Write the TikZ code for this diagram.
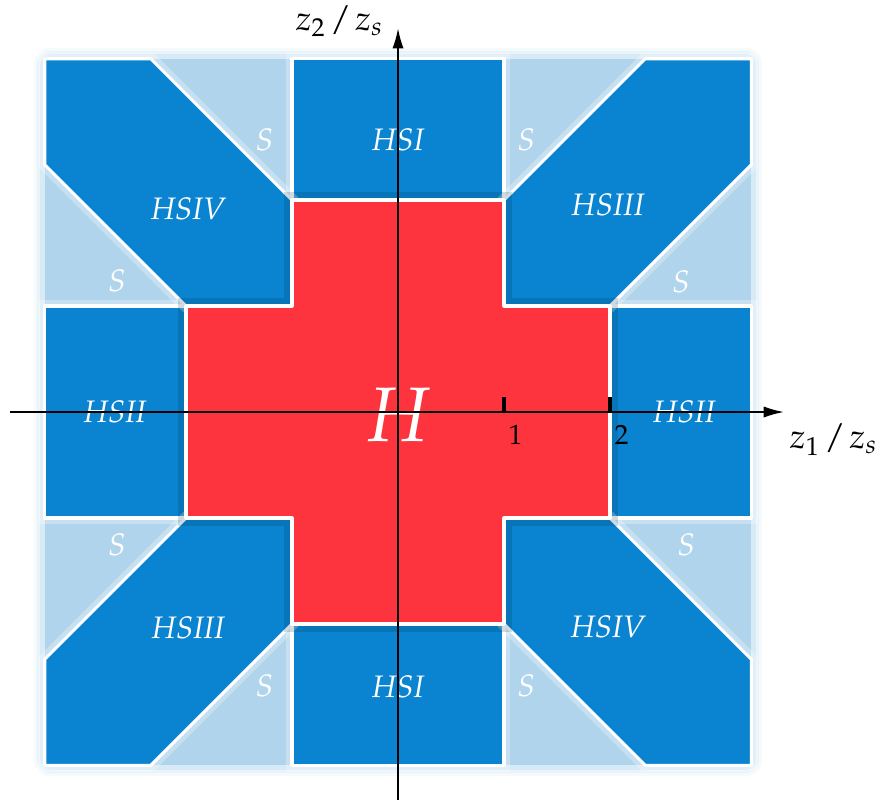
\documentclass[tikz,border=0pt]{standalone}
\definecolor{RegionBlue}{RGB}{10, 132, 208}
\definecolor{PaleBlue}{RGB}{176, 212, 236}
\definecolor{CrossRed}{RGB}{253, 51, 61}
\usepackage[T1]{fontenc}
\usepackage{mathpazo}
\usepackage{xcolor}
\usepackage{tikz}
\usetikzlibrary{arrows.meta}

\begin{document}
\begin{tikzpicture}[x=1.2cm, y=1.2cm,
    region/.style={fill=RegionBlue, draw=white, line width=1pt, line join=round,
        preaction={draw=white, opacity=0.3, line width=4pt}},
    crossregion/.style={fill=CrossRed, draw=white, line width=1pt, line join=round,
        preaction={draw=RegionBlue!40!black, opacity=0.18, line width=5pt}},
    lab/.style={text=white, font=\itshape},
    axislab/.style={inner sep=0pt, font=\fontsize{11}{13}\selectfont},
    axis/.style={line width=0.5pt, -{Latex[length=6.5pt, width=3.6pt]}},
    axtick/.style={line width=1pt}]
            \useasboundingbox (-3.755,-3.689) rectangle (4.528,3.887);

            % Glow round the square
            \foreach \w/\o in {7pt/0.12, 5pt/0.18, 3pt/0.3}
                \draw[PaleBlue, opacity=\o, line width=\w, rounded corners=2pt] (-3.333,-3.333) rectangle (3.333,3.333);

            % Stable part S
            \fill[PaleBlue] (-3.333,-3.333) rectangle (3.333,3.333);

            % HSI
            \draw[region] (-1,2) rectangle (1,3.333);
            \draw[region] (-1,-3.333) rectangle (1,-2);
            % HSII
            \draw[region] (2,-1) rectangle (3.333,1);
            \draw[region] (-3.333,-1) rectangle (-2,1);
            % HSIII
            \draw[region] (1,1) -- (2,1) -- (3.333,2.333) -- (3.333,3.333) -- (2.333,3.333) -- (1,2) -- cycle;
            \draw[region] (-1,-1) -- (-2,-1) -- (-3.333,-2.333) -- (-3.333,-3.333) -- (-2.333,-3.333) -- (-1,-2) -- cycle;
            % HSIV
            \draw[region] (-1,1) -- (-2,1) -- (-3.333,2.333) -- (-3.333,3.333) -- (-2.333,3.333) -- (-1,2) -- cycle;
            \draw[region] (1,-1) -- (2,-1) -- (3.333,-2.333) -- (3.333,-3.333) -- (2.333,-3.333) -- (1,-2) -- cycle;

            % H
            \draw[crossregion] (-1,-2) -- (1,-2) -- (1,-1) -- (2,-1) -- (2,1) -- (1,1) -- (1,2) -- (-1,2)
                -- (-1,1) -- (-2,1) -- (-2,-1) -- (-1,-1) -- cycle;

            % Labels
            \node[lab] (hsiN) at (0,2.57) {HSI};
            \node[lab] (hsiS) at (0,-2.59) {HSI};
            \node[lab] (hsiiE) at (2.70,0) {HSII};
            \node[lab] (hsiiW) at (-2.67,0) {HSII};
            \node[lab] (hsiiiNE) at (1.98,1.95) {HSIII};
            \node[lab] (hsiiiSW) at (-1.98,-2.04) {HSIII};
            \node[lab] (hsivNW) at (-1.98,1.92) {HSIV};
            \node[lab] (hsivSE) at (1.98,-2.03) {HSIV};
            \node[lab] (sNEa) at (1.21,2.57) {S};
            \node[lab] (sNEb) at (2.67,1.23) {S};
            \node[lab] (sNWa) at (-1.26,2.57) {S};
            \node[lab] (sNWb) at (-2.65,1.24) {S};
            \node[lab] (sSWa) at (-2.65,-1.25) {S};
            \node[lab] (sSWb) at (-1.26,-2.58) {S};
            \node[lab] (sSEa) at (2.72,-1.25) {S};
            \node[lab] (sSEb) at (1.21,-2.58) {S};
            \node[text=white] (hlab) at (0,-0.03) {\Huge$H$};

            % Axes
            \coordinate (xstart) at (-3.66,0);
            \coordinate (xend) at (3.64,0);
            \coordinate (ystart) at (0,-3.66);
            \coordinate (yend) at (0,3.62);
            \draw[axis] (xstart) -- (xend);
            \draw[axis] (ystart) -- (yend);
            \node[axislab, anchor=west] (xlab) at (3.69,-0.26) {$z_1\mkern2mu/\mkern2mu z_s$};
            \node[axislab, anchor=east] (ylab) at (-0.13,3.69) {$z_2\mkern2mu/\mkern2mu z_s$};

            % Ticks
            \draw[axtick] (1,0) -- (1,0.14);
            \draw[axtick] (2,0) -- (2,0.14);
            \node (one) at (1.11,-0.22) {\small 1};
            \node (two) at (2.11,-0.22) {\small 2};
        \end{tikzpicture}
\end{document}
